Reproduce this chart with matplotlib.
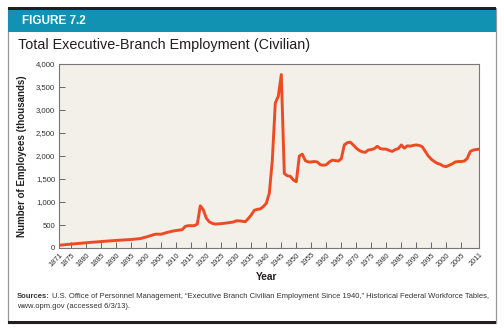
import matplotlib
matplotlib.use("Agg")
import matplotlib.pyplot as plt
from matplotlib.patches import Rectangle

plt.rcParams["font.family"] = ["Liberation Sans", "DejaVu Sans"]

# ---------- data (thousands of civilian executive-branch employees) ----------
years = [1871, 1875, 1881, 1885, 1890, 1895, 1898, 1900, 1903, 1905, 1907, 1909,
         1912, 1913, 1914, 1916, 1917, 1918, 1919, 1920, 1921, 1922, 1923, 1925,
         1927, 1929, 1930, 1931, 1933, 1934, 1935, 1936, 1937, 1938, 1939, 1940,
         1941, 1942, 1943, 1944, 1945, 1946, 1947, 1948, 1949, 1950, 1951, 1952,
         1953, 1954, 1955, 1956, 1957, 1958, 1959, 1960, 1961, 1962, 1963, 1964,
         1965, 1966, 1967, 1968, 1969, 1970, 1971, 1972, 1973, 1974, 1975, 1976,
         1977, 1978, 1979, 1980, 1981, 1982, 1983, 1984, 1985, 1986, 1987, 1988,
         1989, 1990, 1991, 1992, 1993, 1994, 1995, 1996, 1997, 1998, 1999, 2000,
         2001, 2002, 2003, 2004, 2005, 2006, 2007, 2008, 2009, 2011]
employees = [60, 85, 120, 140, 165, 185, 205, 240, 300, 300, 340, 370,
             400, 470, 485, 485, 520, 917, 830, 650, 570, 535, 520, 530,
             545, 565, 590, 590, 572, 640, 720, 820, 840, 850, 900, 970,
             1190, 1900, 3150, 3300, 3770, 1620, 1570, 1560, 1480, 1440, 2000, 2040,
             1900, 1870, 1870, 1880, 1870, 1810, 1800, 1810, 1870, 1910, 1900, 1890,
             1940, 2240, 2290, 2300, 2240, 2170, 2120, 2090, 2080, 2130, 2140, 2160,
             2210, 2160, 2150, 2150, 2120, 2100, 2140, 2160, 2240, 2170, 2220, 2215,
             2230, 2240, 2230, 2200, 2100, 2000, 1930, 1880, 1840, 1820, 1780, 1770,
             1800, 1830, 1870, 1880, 1880, 1890, 1950, 2100, 2130, 2150]

xticks = [1871] + list(range(1875, 2010, 5)) + [2011]
yticks = list(range(0, 4001, 500))
ylabels = [f"{v:,}" for v in yticks]

W, H = 504, 333
fig = plt.figure(figsize=(W / 100, H / 100), dpi=100)
fig.patch.set_facecolor("white")


def box(x0, y0, x1, y1, **kw):
    # rectangle in pixel coords (origin top-left)
    fig.add_artist(Rectangle((x0 / W, 1 - y1 / H), (x1 - x0) / W, (y1 - y0) / H,
                             transform=fig.transFigure, **kw))


# frame and header band
box(8, 8, 496, 323, facecolor="white", edgecolor="#9a9a9a", linewidth=0.9,
    zorder=-2)
box(8, 7, 496, 10.5, facecolor="#231f20", edgecolor="none")
box(8, 10.5, 496, 32, facecolor="#1192b3", edgecolor="none")
box(8, 320.5, 496, 324, facecolor="#231f20", edgecolor="none")

fig.text(22 / W, 1 - 21 / H, "FIGURE 7.2", color="white", fontsize=8.5,
         fontweight="bold", va="center", ha="left")
fig.text(18 / W, 1 - 45 / H, "Total Executive-Branch Employment (Civilian)",
         color="#231f20", fontsize=10.4, va="center", ha="left")

# ---------- plot ----------
ax = fig.add_axes([59.3 / W, 1 - 248 / H, 420 / W, 184 / H])
ax.set_zorder(2)
ax.set_facecolor("#f3f0e9")
ax.plot(years, employees, color="#ee4a23", linewidth=2.1, solid_joinstyle="round")
ax.set_xlim(1871, 2011)
ax.set_ylim(0, 4000)
ax.set_xticks(xticks)
ax.set_xticklabels([str(y) for y in xticks], rotation=45, ha="right",
                   rotation_mode="anchor", fontsize=5.3, color="#333333")
ax.set_yticks(yticks)
ax.set_yticklabels(ylabels, fontsize=5.6, color="#333333")
ax.tick_params(axis="both", direction="in", length=4.5, width=0.7,
               color="#666666", pad=3)
ax.tick_params(axis="x", pad=2.5)
for s in ax.spines.values():
    s.set_color("#777777")
    s.set_linewidth(0.8)

fig.text(22 / W, 1 - 156 / H, "Number of Employees (thousands)", rotation=90,
         fontsize=7, fontweight="bold", color="#231f20", ha="center", va="center")
fig.text(267 / W, 1 - 277 / H, "Year", fontsize=7.3, fontweight="bold",
         color="#231f20", ha="center", va="center")

# ---------- sources ----------
src = fig.text(17 / W, 1 - 296 / H, "Sources:", fontsize=5.5, fontweight="bold",
               color="#333333", ha="left", va="center")
fig.canvas.draw()
bb = src.get_window_extent()
fig.text((bb.x1 + 2) / W, 1 - 296 / H,
         "U.S. Office of Personnel Management, \u201cExecutive Branch Civilian "
         "Employment Since 1940,\u201d Historical Federal Workforce Tables,",
         fontsize=5.5, color="#333333", ha="left", va="center")
fig.text(17 / W, 1 - 306 / H, "www.opm.gov (accessed 6/3/13).", fontsize=5.5,
         color="#333333", ha="left", va="center")

fig.savefig("out.png", dpi=100)
